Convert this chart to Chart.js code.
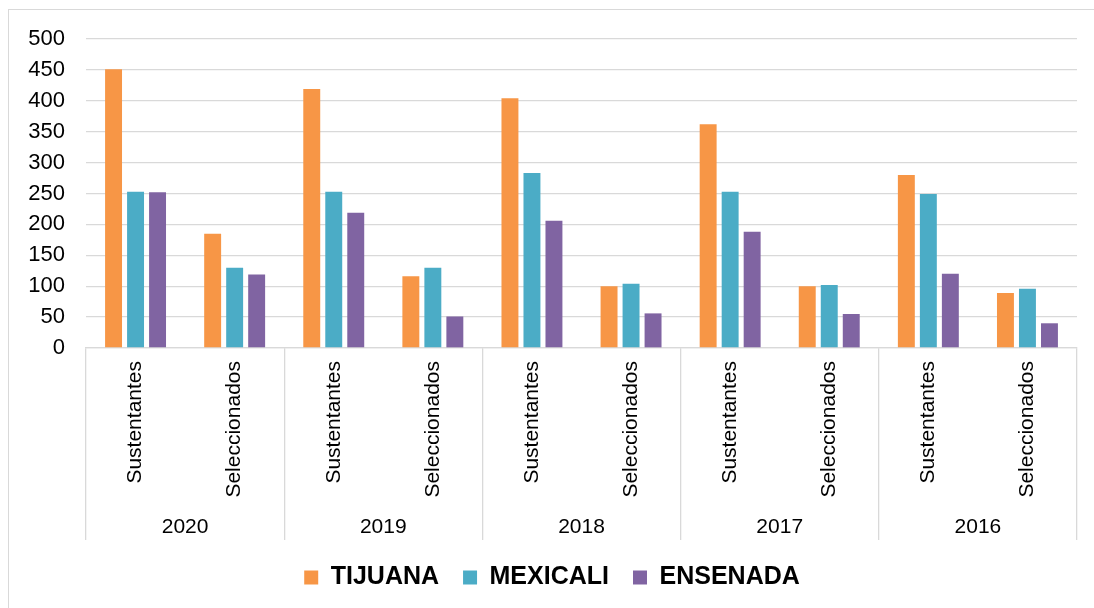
<!DOCTYPE html>
<html>
<head>
<meta charset="utf-8">
<script src="https://cdn.jsdelivr.net/npm/chart.js@4"></script>
<style>
  html, body { margin: 0; padding: 0; background: #fff; }
  #wrap { position: relative; width: 1094px; height: 608px; overflow: hidden; }
  #frame { position: absolute; left: 8px; top: 9px; width: 1200px; height: 700px;
           border-left: 1px solid #d9d9d9; border-top: 1px solid #d9d9d9; }
  #chart { position: absolute; left: 0; top: 0; }
</style>
</head>
<body>
<div id="wrap">
  <div id="frame"></div>
  <canvas id="chart" width="1094" height="608"></canvas>
</div>
<script>
// --- DATA ---
const categories = [
  'Sustentantes', 'Seleccionados', 'Sustentantes', 'Seleccionados', 'Sustentantes',
  'Seleccionados', 'Sustentantes', 'Seleccionados', 'Sustentantes', 'Seleccionados'
];
const years = ['2020', '2019', '2018', '2017', '2016'];

const tijuana  = [451, 185, 419, 116, 404, 100, 362, 100, 280, 89];
const mexicali = [253, 130, 253, 130, 283, 104, 253, 102, 249, 96];
const ensenada = [252, 119, 219, 51, 206, 56, 188, 55, 120, 40];

const yTicks = [0, 50, 100, 150, 200, 250, 300, 350, 400, 450, 500];

// --- CHART ---
const FONT = "'Liberation Sans', Arial, sans-serif";
const GRID = '#d9d9d9';

function bar(label, data, color) {
  return {
    label, data,
    backgroundColor: color,
    borderWidth: 0,
    categoryPercentage: 0.666,
    barPercentage: 0.77
  };
}

const ctx = document.getElementById('chart').getContext('2d');
new Chart(ctx, {
  type: 'bar',
  data: {
    labels: categories,
    datasets: [
      bar('TIJUANA', tijuana, '#F79646'),
      bar('MEXICALI', mexicali, '#4BACC6'),
      bar('ENSENADA', ensenada, '#8064A2')
    ]
  },
  options: {
    responsive: false,
    animation: false,
    layout: { padding: { top: 39, left: 27, right: 17, bottom: 8 } },
    plugins: {
      tooltip: { enabled: false },
      legend: {
        position: 'bottom',
        labels: {
          boxWidth: 14, boxHeight: 14, padding: 24,
          color: '#000',
          font: { family: FONT, size: 25, weight: 'bold' }
        }
      }
    },
    scales: {
      y: {
        min: 0, max: 500,
        afterBuildTicks: s => { s.ticks = yTicks.map(v => ({ value: v })); },
        afterFit: s => { s.width = 59; },
        ticks: { autoSkip: false, color: '#000', padding: 21, font: { family: FONT, size: 22 } },
        grid: { color: GRID, lineWidth: 1.3, drawTicks: false },
        border: { display: false }
      },
      x: {
        offset: true,
        afterFit: s => { s.height = 152; },
        ticks: {
          autoSkip: false, minRotation: 90, maxRotation: 90,
          padding: -179, color: '#000',
          font: { family: FONT, size: 21 }
        },
        grid: {
          offset: true, drawOnChartArea: false, tickLength: 192, lineWidth: 1.3,
          color: c => (c.index === undefined || c.index % 2 === 0) ? GRID : 'rgba(0,0,0,0)'
        },
        border: { color: GRID, width: 1.3 }
      },
      x2: {
        type: 'category',
        labels: years,
        position: 'bottom',
        weight: 1,
        offset: true,
        afterFit: s => { s.height = 41; },
        ticks: { padding: 7, color: '#000', font: { family: FONT, size: 21 } },
        grid: { display: false },
        border: { display: false }
      }
    }
  }
});
</script>
</body>
</html>
